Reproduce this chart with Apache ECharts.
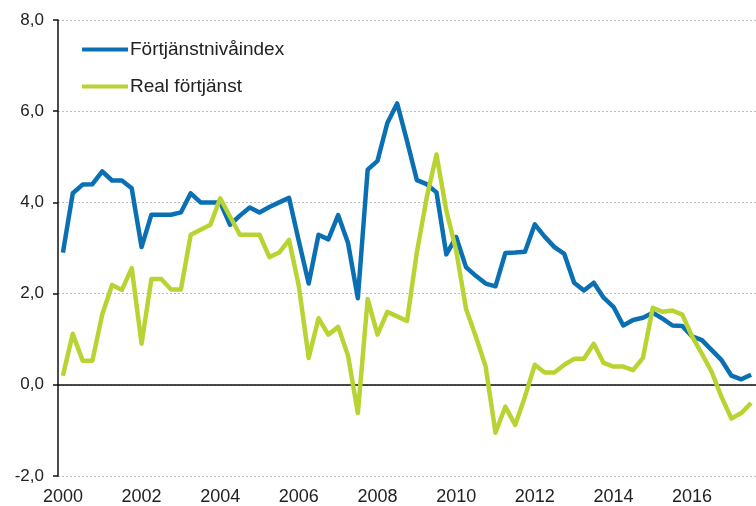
<!DOCTYPE html>
<html>
<head>
<meta charset="utf-8">
<script src="https://cdn.jsdelivr.net/npm/echarts@6/dist/echarts.min.js"></script>
<style>
  html, body { margin: 0; padding: 0; background: #fff; }
  #chart { width: 756px; height: 506px; }
</style>
</head>
<body>
<div id="chart"></div>
<script>
// kvartal 2000Q1 - 2017Q3
const years = [2000, 2001, 2002, 2003, 2004, 2005, 2006, 2007, 2008,
  2009, 2010, 2011, 2012, 2013, 2014, 2015, 2016, 2017]
const quarters = ['Q1', 'Q2', 'Q3', 'Q4']

const fortjanstnivaindex = [
  2.9, 4.2, 4.39, 4.4, 4.68, 4.48, 4.48, 4.31,
  3.02, 3.73, 3.73, 3.73, 3.78, 4.2, 4.0, 4.0,
  4.0, 3.51, 3.71, 3.89, 3.78, 3.9, 4.0, 4.1,
  3.15, 2.22, 3.29, 3.19, 3.72, 3.11, 1.9, 4.72,
  4.91, 5.74, 6.17, 5.35, 4.49, 4.4, 4.22, 2.86,
  3.24, 2.58, 2.39, 2.22, 2.16, 2.89, 2.9, 2.92,
  3.52, 3.25, 3.02, 2.87, 2.24, 2.07, 2.24, 1.91,
  1.71, 1.3, 1.42, 1.47, 1.58, 1.45, 1.3, 1.29,
  1.06, 0.98, 0.76, 0.54, 0.2, 0.12, 0.22
]

const realFortjanst = [
  0.2, 1.12, 0.53, 0.53, 1.54, 2.19, 2.08, 2.56,
  0.9, 2.32, 2.32, 2.09, 2.09, 3.29, 3.4, 3.51,
  4.09, 3.69, 3.29, 3.29, 3.29, 2.8, 2.9, 3.18,
  2.16, 0.59, 1.46, 1.1, 1.27, 0.64, -0.62, 1.88,
  1.1, 1.6, 1.5, 1.4, 2.9, 4.1, 5.05, 3.82,
  2.95, 1.67, 1.06, 0.4, -1.05, -0.48, -0.88, -0.26,
  0.44, 0.27, 0.27, 0.44, 0.57, 0.57, 0.9, 0.48,
  0.4, 0.4, 0.32, 0.59, 1.69, 1.6, 1.63, 1.54,
  1.06, 0.68, 0.28, -0.27, -0.74, -0.62, -0.4
]

const periods = []
years.forEach(y => quarters.forEach(q => periods.push(y + q)))
periods.length = fortjanstnivaindex.length

const chart = echarts.init(document.getElementById('chart'))

const option = {
  animation: false,
  textStyle: { fontFamily: 'Liberation Sans, Arial, sans-serif' },
  grid: { left: 58, width: 699, top: 20, bottom: 30 },
  legend: {
    orient: 'vertical',
    left: 82,
    top: 40,
    padding: 0,
    icon: 'rect',
    itemWidth: 46,
    itemHeight: 4,
    itemGap: 18,
    textStyle: { fontSize: 19, color: '#222', padding: [0, 0, 0, -3] },
    data: ['Förtjänstnivåindex', 'Real förtjänst']
  },
  xAxis: [
    {
      type: 'category',
      data: periods,
      position: 'bottom',
      axisLine: { onZero: true, lineStyle: { color: '#111', width: 1.5 } },
      axisTick: { interval: 0, length: 5, lineStyle: { color: '#111', width: 1.5 } },
      axisLabel: { show: false },
      splitLine: { show: false }
    },
    {
      type: 'category',
      data: periods,
      position: 'bottom',
      axisLine: { show: false, onZero: false },
      axisTick: { show: false },
      axisLabel: {
        interval: 7,
        margin: 12,
        fontSize: 18,
        color: '#222',
        formatter: v => v.slice(0, 4)
      }
    }
  ],
  yAxis: {
    type: 'value',
    min: -2,
    max: 8,
    interval: 2,
    axisLine: { show: true, lineStyle: { color: '#111', width: 1.5 } },
    axisTick: { show: true, length: 5, lineStyle: { color: '#111', width: 1.5 } },
    axisLabel: {
      margin: 14,
      fontSize: 17,
      color: '#222',
      formatter: v => v.toFixed(1).replace('.', ',')
    },
    splitLine: { lineStyle: { color: '#bdbdbd', type: [2, 2], width: 1 } }
  },
  series: [
    {
      name: 'Förtjänstnivåindex',
      type: 'line',
      data: fortjanstnivaindex,
      symbol: 'none',
      color: '#0a70b3',
      lineStyle: { width: 4.5, join: 'round' }
    },
    {
      name: 'Real förtjänst',
      type: 'line',
      data: realFortjanst,
      symbol: 'none',
      color: '#b8d432',
      lineStyle: { width: 4.5, join: 'round' }
    }
  ]
}

chart.setOption(option)
</script>
</body>
</html>
